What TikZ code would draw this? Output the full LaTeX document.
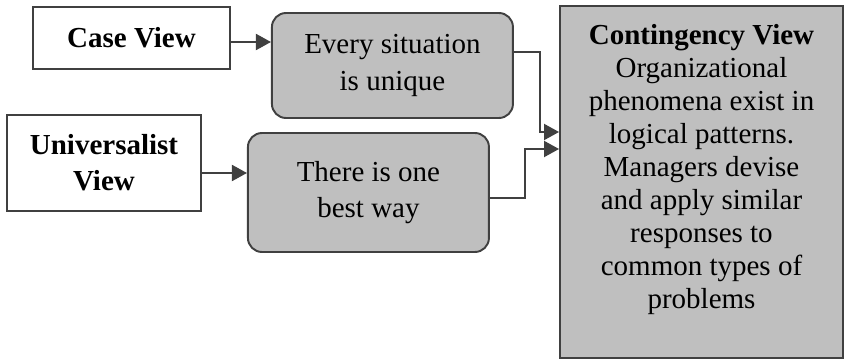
\documentclass[tikz,border=0pt]{standalone}
\usepackage{fontspec}
\setmainfont{Liberation Serif}
\usetikzlibrary{positioning, arrows.meta}
\definecolor{lineGray}{HTML}{404040}
\definecolor{boxGray}{HTML}{BFBFBF}

\begin{document}
\begin{tikzpicture}[
    boxbase/.style={draw=lineGray, line width=1.1pt, align=center, inner sep=2pt,
      font=\fontsize{16.5}{20.5}\selectfont},
    view/.style={boxbase, fill=white, font=\fontsize{16.5}{20.5}\selectfont\bfseries},
    belief/.style={boxbase, fill=boxGray, rounded corners=8pt, minimum width=4.82cm},
    contbox/.style={boxbase, fill=boxGray, inner xsep=0.13cm, inner ysep=0.17cm,
      font=\fontsize{16.5}{18.8}\selectfont},
    arr/.style={-{Triangle[length=0.3cm, width=0.32cm]}, lineGray, line width=1.1pt}]
  \useasboundingbox (0,0) rectangle (16.88,-7.22);
  \node[view, minimum width=3.94cm, minimum height=1.24cm] (case) at (2.63,-0.76) {Case View};
  \node[view, minimum width=3.88cm, minimum height=1.92cm] (univ) at (2.08,-3.26) {Universalist\\View};
  \node[belief, minimum height=2.1cm, right=0.8cm of case, yshift=-0.55cm] (every) {Every situation\\is unique};
  \node[belief, minimum height=2.38cm, right=0.9cm of univ, yshift=-0.59cm] (best) {There is one\\best way};
  \node[contbox] (cont) at (14.03,-3.64) {\parbox[c][6.7cm][t]{5.4cm}{\centering
    \vspace*{0.2cm}\textbf{Contingency View}\\Organizational\\phenomena exist in\\logical patterns.\\
    Managers devise\\and apply similar\\responses to\\common types of\\problems}};
  \draw[arr] ([yshift=-0.08cm]case.east) -- ([yshift=-0.08cm]case.east -| every.west);
  \draw[arr] ([yshift=-0.2cm]univ.east) -- ([yshift=-0.2cm]univ.east -| best.west);
  \draw[arr] ([yshift=0.27cm]every.east) -- ++(0.52,0) |- ([yshift=1cm]cont.west);
  \draw[arr] ([yshift=-0.11cm]best.east) -- ++(0.7,0) |- ([yshift=0.66cm]cont.west);
\end{tikzpicture}
\end{document}
